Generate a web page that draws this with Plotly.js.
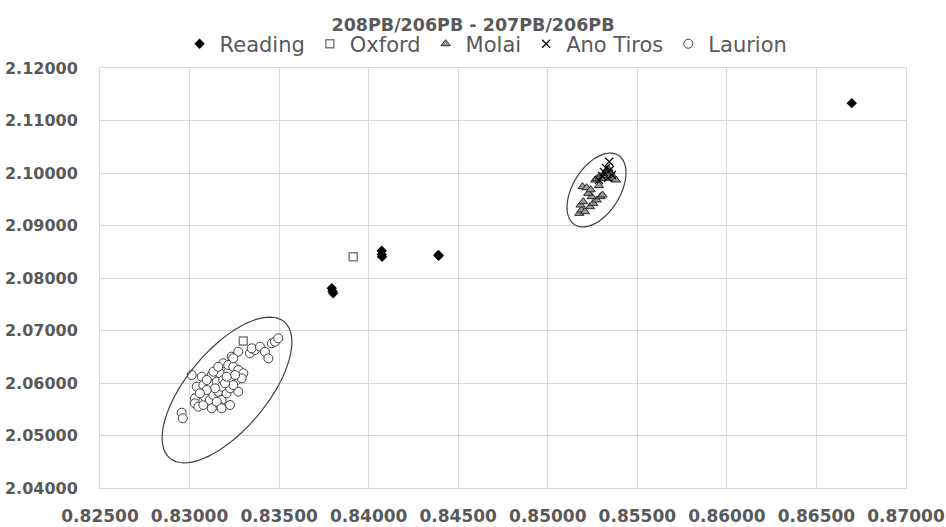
<!DOCTYPE html>
<html>
<head>
<meta charset="utf-8">
<script src="https://cdn.plot.ly/plotly-3.0.1.min.js"></script>
<style>html,body{margin:0;padding:0;background:#fff;}#chart{width:946px;height:527px;}</style>
</head>
<body>
<div id="chart"></div>
<script>
// ---- data ----
const readingX = [0.86697, 0.84073, 0.84073, 0.84075, 0.84389, 0.84391, 0.83794, 0.83802, 0.83798];
const readingY = [2.11330, 2.08520, 2.08450, 2.08406, 2.08438, 2.08425, 2.07804, 2.07709, 2.07750];

const oxfordX = [0.83914, 0.83300];
const oxfordY = [2.08406, 2.06800];

const molaiX = [0.85176, 0.85189, 0.85208, 0.85183, 0.85198, 0.85236, 0.85254, 0.85273, 0.85245, 0.85226,
                0.85194, 0.85217, 0.85295, 0.85306, 0.85264, 0.85276, 0.85292, 0.85310, 0.85325, 0.85338,
                0.85351, 0.85370, 0.85381, 0.85319, 0.85332, 0.85240, 0.85286];
const molaiY = [2.09232, 2.09295, 2.09263, 2.09390, 2.09453, 2.09358, 2.09423, 2.09486, 2.09549, 2.09613,
                2.09739, 2.09720, 2.09549, 2.09581, 2.09867, 2.09899, 2.09930, 2.09962, 2.10025, 2.10076,
                2.09994, 2.09899, 2.09867, 2.09899, 2.09949, 2.09680, 2.09760];

const anoTirosX = [0.85343, 0.85325, 0.85347, 0.85314, 0.85358, 0.85303, 0.85336, 0.85286];
const anoTirosY = [2.10215, 2.10095, 2.10057, 2.10019, 2.09962, 2.09943, 2.09905, 2.09867];

const laurionX = [0.83012, 0.83068, 0.83124, 0.83170, 0.83216, 0.83235, 0.83272, 0.83337, 0.83365, 0.83188,
                  0.83216, 0.83244, 0.83272, 0.83300, 0.83263, 0.83291, 0.83272, 0.83040, 0.83077, 0.83114,
                  0.83152, 0.83188, 0.83226, 0.83030, 0.83030, 0.83049, 0.83077, 0.83086, 0.83114, 0.83133,
                  0.83160, 0.83179, 0.83207, 0.83226, 0.83244, 0.83170, 0.83124, 0.83226, 0.83179, 0.83142,
                  0.83096, 0.83058, 0.82956, 0.83152, 0.83198, 0.83254, 0.83347, 0.83393, 0.83421, 0.83440,
                  0.83459, 0.83477, 0.83495, 0.83244, 0.82962, 0.83179, 0.83133, 0.83096, 0.83207, 0.83160];
const laurionY = [2.06152, 2.06120, 2.06152, 2.06185, 2.06215, 2.06501, 2.06596, 2.06566, 2.06629, 2.06375,
                  2.06343, 2.06310, 2.06248, 2.06185, 2.06057, 2.06090, 2.05834, 2.05930, 2.05962, 2.05994,
                  2.06025, 2.06057, 2.06090, 2.05709, 2.05613, 2.05549, 2.05581, 2.05739, 2.05676, 2.05771,
                  2.05834, 2.05676, 2.05804, 2.05899, 2.05962, 2.05549, 2.05518, 2.05581, 2.05930, 2.05899,
                  2.05867, 2.05804, 2.05434, 2.05644, 2.05994, 2.06152, 2.06661, 2.06691, 2.06596, 2.06470,
                  2.06756, 2.06787, 2.06851, 2.06470, 2.05328, 2.05518, 2.06215, 2.06057, 2.06120, 2.06310];

// group ellipses: centre (data units), semi-axes (px), tilt (deg)
const ellipseCX = [0.83209, 0.85272];
const ellipseCY = [2.05867, 2.09676];
const ellipseA = [89, 41];
const ellipseB = [40, 23.5];
const ellipseAngle = [50, 58];

const xTickVals = [0.825, 0.830, 0.835, 0.840, 0.845, 0.850, 0.855, 0.860, 0.865, 0.870];
const yTickVals = [2.04, 2.05, 2.06, 2.07, 2.08, 2.09, 2.10, 2.11, 2.12];

const titleText = '208PB/206PB - 207PB/206PB';

// ---- chart ----
const FONT = 'DejaVu Sans';
const GREY = '#595959';

function ellipsePath(a, b, deg) {
  const th = deg * Math.PI / 180;
  let p = '';
  for (let i = 0; i <= 72; i++) {
    const t = i / 72 * 2 * Math.PI;
    const dx = a * Math.cos(t) * Math.cos(th) - b * Math.sin(t) * Math.sin(th);
    const dy = a * Math.cos(t) * Math.sin(th) + b * Math.sin(t) * Math.cos(th);
    p += (i === 0 ? 'M' : 'L') + dx.toFixed(2) + ',' + dy.toFixed(2);
  }
  return p + 'Z';
}

const shapes = ellipseCX.map((cx, i) => ({
  type: 'path', xref: 'x', yref: 'y',
  xsizemode: 'pixel', ysizemode: 'pixel',
  xanchor: cx, yanchor: ellipseCY[i],
  path: ellipsePath(ellipseA[i], ellipseB[i], ellipseAngle[i]),
  line: {color: '#404040', width: 1.2},
  fillcolor: 'rgba(0,0,0,0)',
  layer: 'above'
}));

const traces = [
  {name: 'Reading', x: readingX, y: readingY, type: 'scatter', mode: 'markers',
   marker: {symbol: 'diamond', size: 8, color: '#000000'}},
  {name: 'Oxford', x: oxfordX, y: oxfordY, type: 'scatter', mode: 'markers',
   marker: {symbol: 'square', size: 8, color: '#ffffff', line: {color: '#7f7f7f', width: 1.5}}},
  {name: 'Molai', x: molaiX, y: molaiY, type: 'scatter', mode: 'markers',
   marker: {symbol: 'triangle-up', size: 8, color: '#9a9a9a', line: {color: '#262626', width: 1}}},
  {name: 'Ano Tiros', x: anoTirosX, y: anoTirosY, type: 'scatter', mode: 'markers',
   marker: {symbol: 'x-thin', size: 8, color: '#000000', line: {color: '#000000', width: 1.2}}},
  {name: 'Laurion', x: laurionX, y: laurionY, type: 'scatter', mode: 'markers',
   marker: {symbol: 'circle', size: 9, color: '#ffffff', line: {color: '#404040', width: 1}}}
];

const axisCommon = {
  showgrid: true, gridcolor: '#d9d9d9', gridwidth: 1,
  showline: true, linecolor: '#d9d9d9', linewidth: 1, mirror: true,
  zeroline: false, ticks: '', tickformat: '.5f',
  fixedrange: true
};

const layout = {
  width: 946, height: 527,
  margin: {l: 100, r: 40, t: 68, b: 39},
  paper_bgcolor: '#ffffff', plot_bgcolor: '#ffffff',
  title: {text: titleText, font: {family: FONT, size: 17.5, weight: 'bold', color: GREY},
          x: 0.5, xref: 'container', y: 1 - 25 / 527, yref: 'container', yanchor: 'middle'},
  xaxis: Object.assign({}, axisCommon, {range: [0.825, 0.870], tickvals: xTickVals, ticklabelstandoff: 13,
          tickfont: {family: FONT, size: 17, weight: 'bold', color: GREY}}),
  yaxis: Object.assign({}, axisCommon, {range: [2.04, 2.12], tickvals: yTickVals, ticklabelstandoff: 18,
          tickfont: {family: FONT, size: 16, weight: 'bold', color: GREY}}),
  showlegend: true,
  legend: {orientation: 'h', x: 0.479, xanchor: 'center', y: 1.057, yanchor: 'middle',
           font: {family: FONT, size: 21, color: GREY}, bgcolor: 'rgba(0,0,0,0)',
           itemsizing: 'trace', tracegroupgap: 0},
  shapes: shapes
};

Plotly.newPlot('chart', traces, layout, {displayModeBar: false, staticPlot: true});
</script>
</body>
</html>
